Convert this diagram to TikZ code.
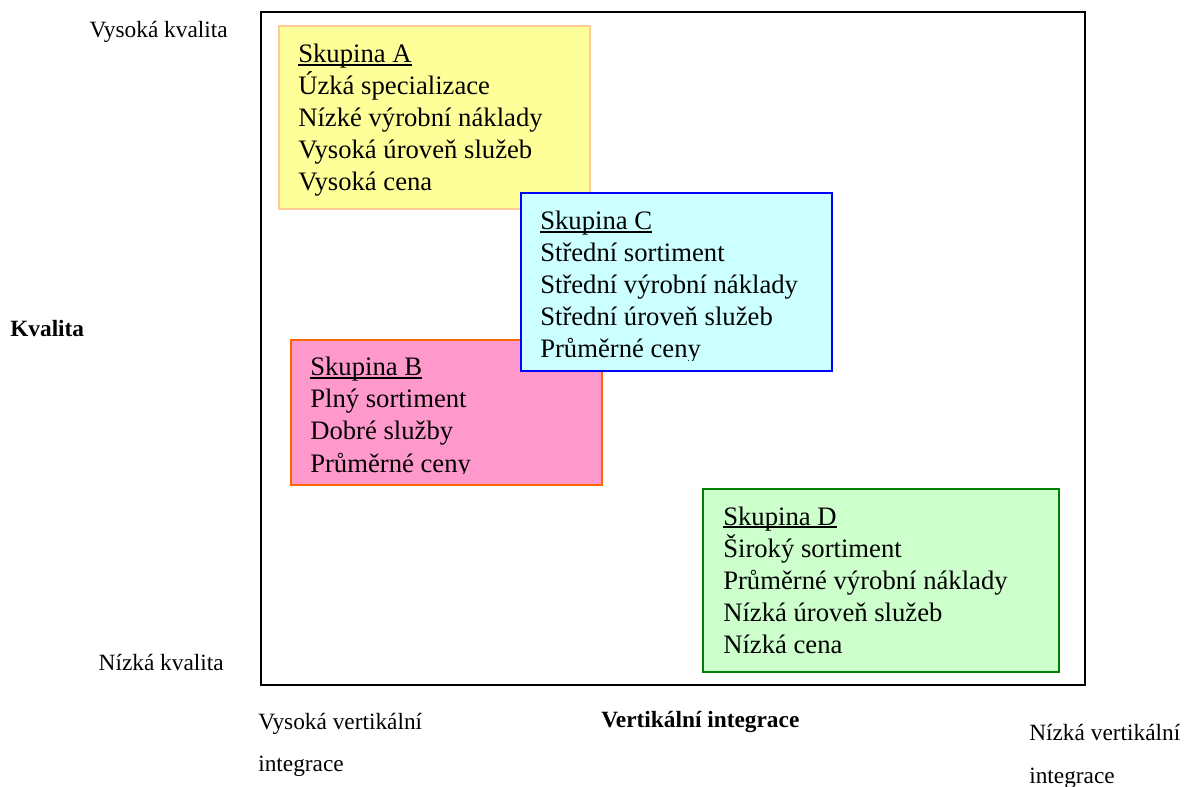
\documentclass[tikz,border=0pt]{standalone}
\usepackage{fontspec}
\setmainfont{Liberation Serif}
\newcommand\skul[1]{\setbox0\hbox{#1}\rlap{\rule[-2.4pt]{\wd0}{1.3pt}}\box0}
\definecolor{fillA}{HTML}{FFFF99}\definecolor{lineA}{HTML}{FFCC99}
\definecolor{fillB}{HTML}{FF99CC}\definecolor{lineB}{HTML}{FF6600}
\definecolor{fillC}{HTML}{CCFFFF}\definecolor{lineC}{HTML}{0000FF}
\definecolor{fillD}{HTML}{CCFFCC}\definecolor{lineD}{HTML}{008000}
\begin{document}
\begin{tikzpicture}[x=0.75pt,y=-0.75pt,
  grp/.style={rectangle,anchor=north west,inner sep=0,line width=1.5pt},
  txt/.style={anchor=base west,inner sep=0,font=\fontsize{20}{24}\selectfont},
  lbl/.style={anchor=base west,inner sep=0,font=\fontsize{17.5}{21}\selectfont}]
\useasboundingbox (0,0) rectangle (1188,787);
\node[grp,draw=black,minimum width=618pt,minimum height=504.75pt] (frame) at (260,11) {};
% Group A
\node[grp,draw=lineA,fill=fillA,minimum width=233.25pt,minimum height=137.25pt] (A) at (278,25) {};
\node[txt] (a1) at (298,63) {\skul{Skupina A}};
\node[txt] (a2) at (298,95) {Úzká specializace};
\node[txt] (a3) at (298,127) {Nízké výrobní náklady};
\node[txt] (a4) at (298,159) {Vysoká úroveň služeb};
\node[txt] (a5) at (298,191) {Vysoká cena};
% Group B
\node[grp,draw=lineB,fill=fillB,minimum width=233.25pt,minimum height=108.75pt] (B) at (290,339) {};
\begin{scope}
\clip (290,339) rectangle (601,473);
\node[txt] (b1) at (310,376) {\skul{Skupina B}};
\node[txt] (b2) at (310,408) {Plný sortiment};
\node[txt] (b3) at (310,440) {Dobré služby};
\node[txt] (b4) at (310,472) {Průměrné ceny};
\end{scope}
% Group C
\node[grp,draw=lineC,fill=fillC,minimum width=233.25pt,minimum height=133.5pt] (C) at (520,192) {};
\begin{scope}
\clip (520,192) rectangle (831,361);
\node[txt] (c1) at (540,230) {\skul{Skupina C}};
\node[txt] (c2) at (540,262) {Střední sortiment};
\node[txt] (c3) at (540,294) {Střední výrobní náklady};
\node[txt] (c4) at (540,326) {Střední úroveň služeb};
\node[txt] (c5) at (540,358) {Průměrné ceny};
\end{scope}
% Group D
\node[grp,draw=lineD,fill=fillD,minimum width=267pt,minimum height=137.25pt] (D) at (702,488) {};
\node[txt] (d1) at (723,525) {\skul{Skupina D}};
\node[txt] (d2) at (723,557) {Široký sortiment};
\node[txt] (d3) at (723,589) {Průměrné výrobní náklady};
\node[txt] (d4) at (723,621) {Nízká úroveň služeb};
\node[txt] (d5) at (723,653) {Nízká cena};
% axis labels
\node[lbl,anchor=base east] (hq) at (228,38) {Vysoká kvalita};
\node[lbl,font=\fontsize{17.5}{21}\selectfont\bfseries] (q) at (10,337) {Kvalita};
\node[lbl,anchor=base east] (lq) at (224,670) {Nízká kvalita};
\node[lbl] (hv1) at (258,729) {Vysoká vertikální};
\node[lbl] (hv2) at (258,771) {integrace};
\node[lbl,font=\fontsize{17.5}{21}\selectfont\bfseries] (v) at (601,727) {Vertikální integrace};
\node[lbl] (lv1) at (1029,740) {Nízká vertikální};
\node[lbl] (lv2) at (1029,783) {integrace};
\end{tikzpicture}
\end{document}
